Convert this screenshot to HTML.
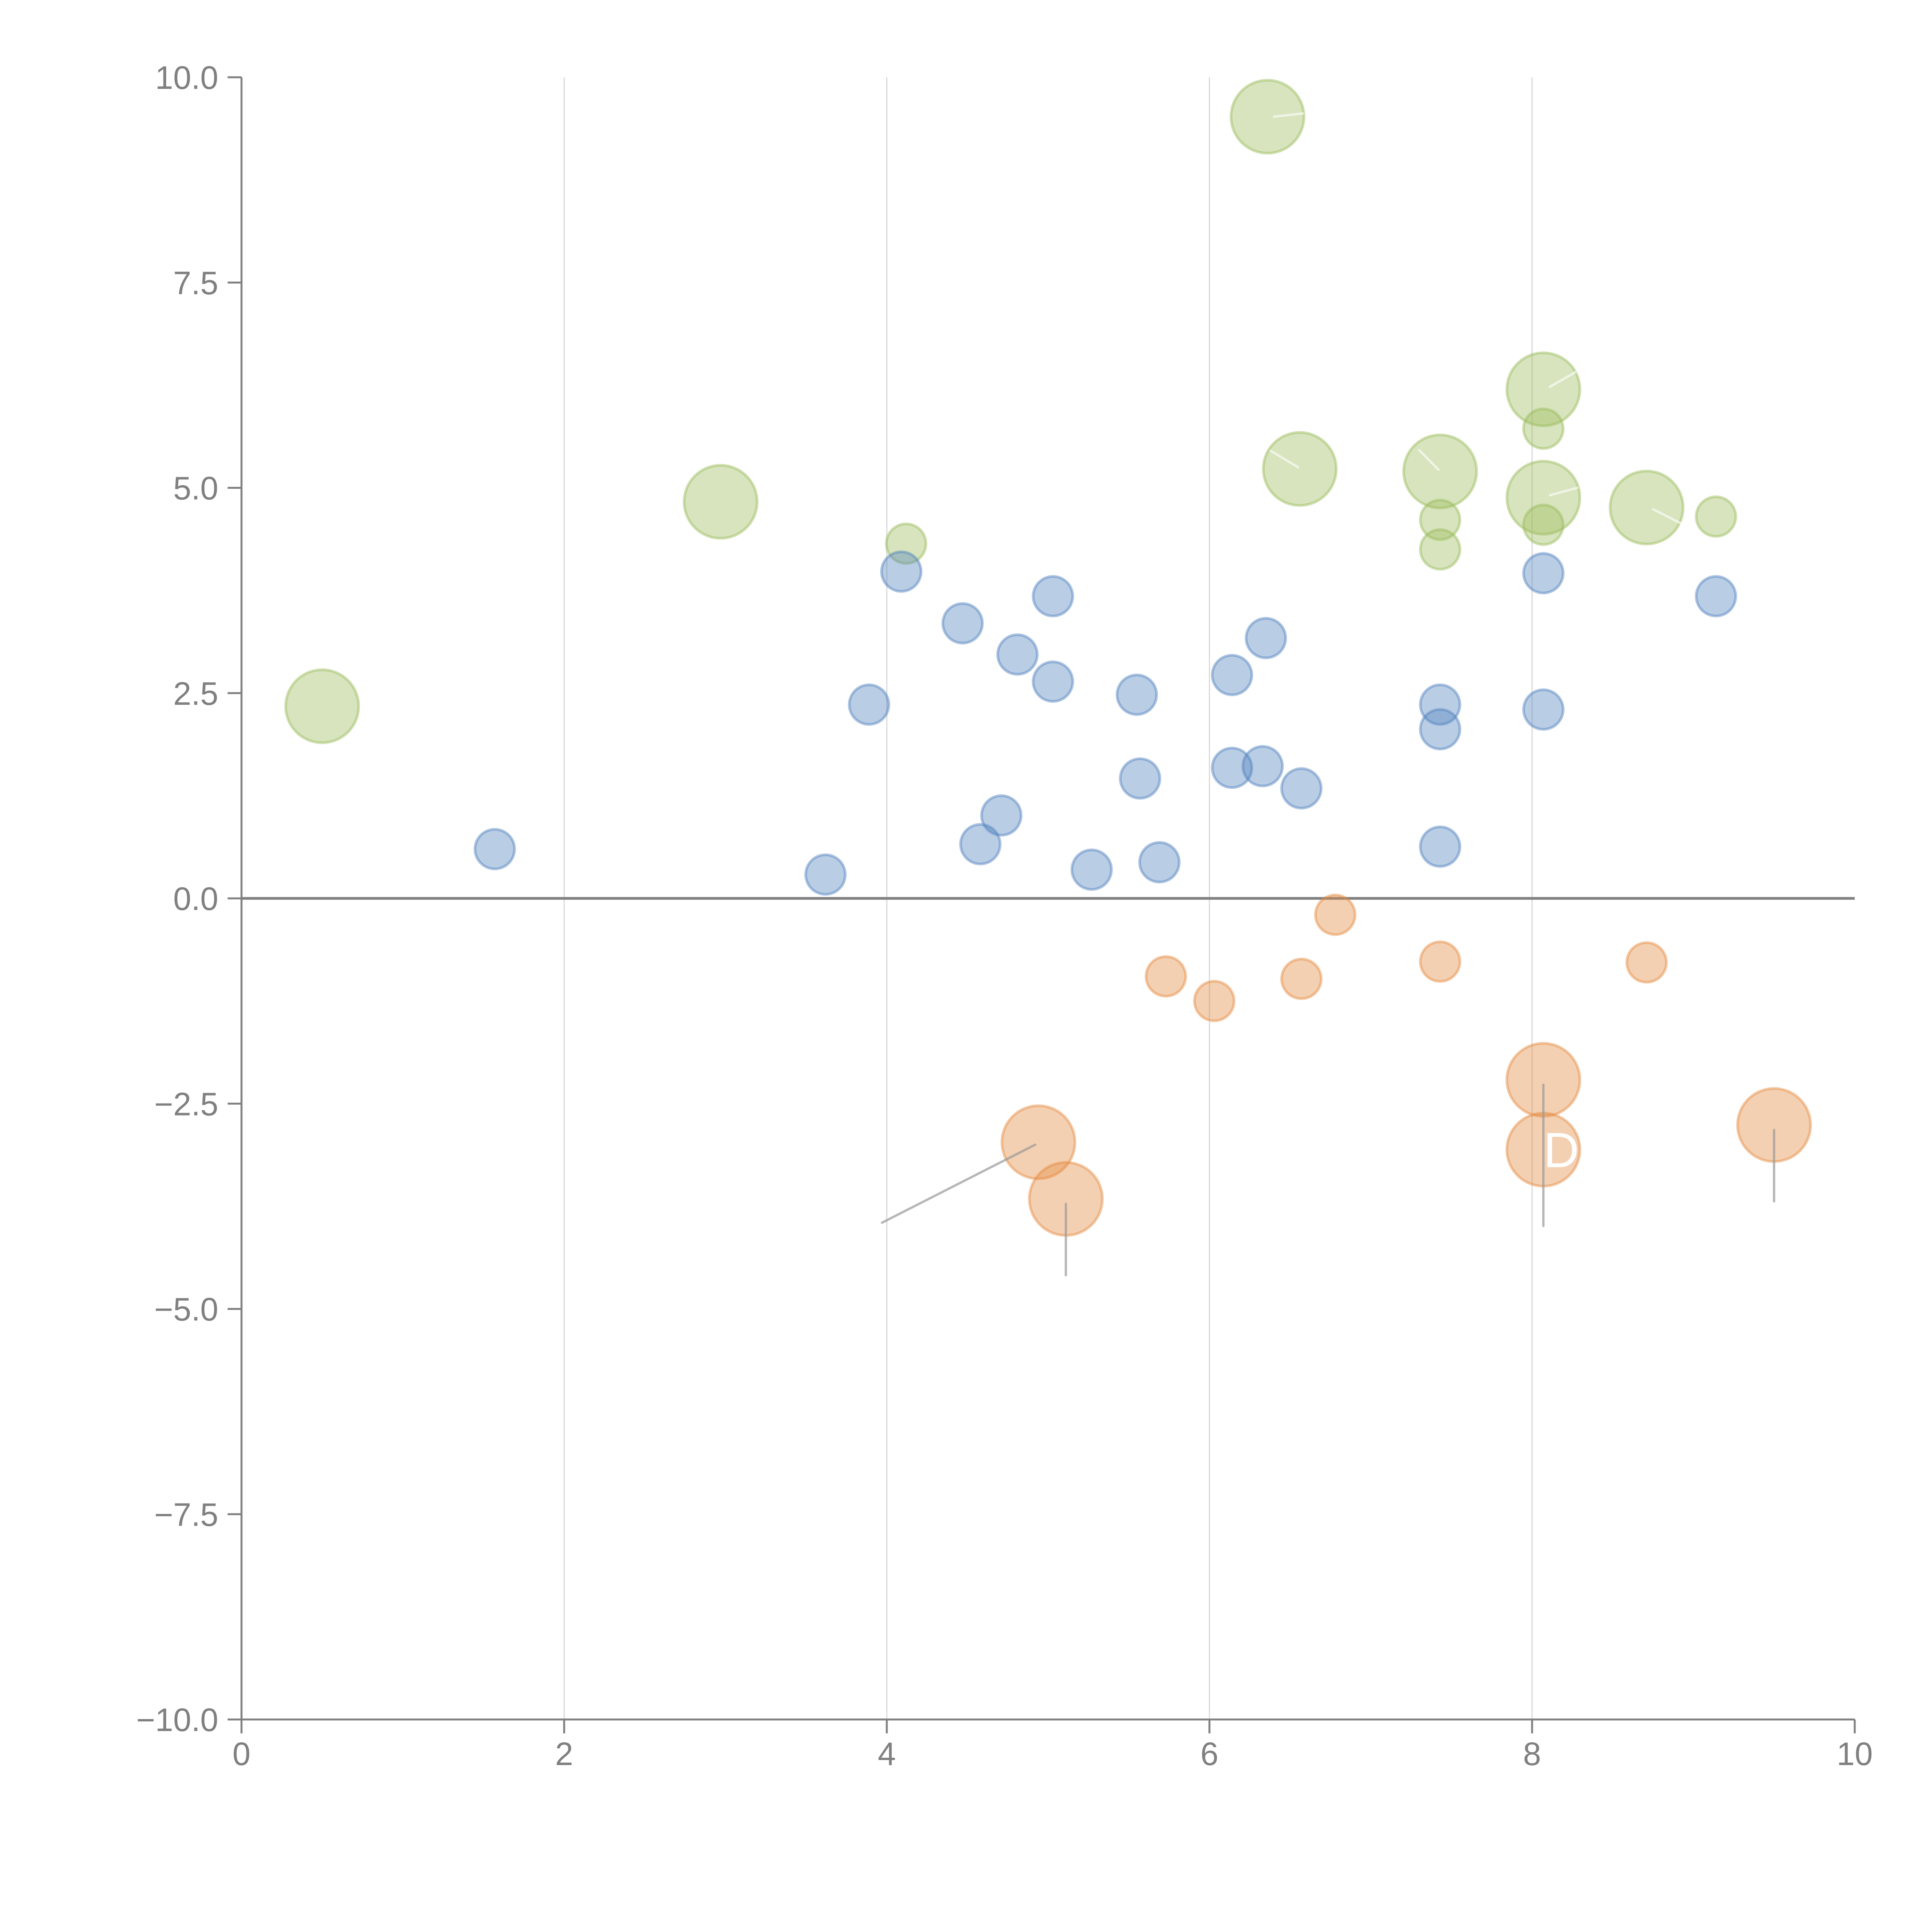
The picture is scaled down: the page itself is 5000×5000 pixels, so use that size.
<!DOCTYPE html>
<html>
<head>
<meta charset="utf-8">
<style>
html,body{margin:0;padding:0;background:#fff;}
svg{display:block;}
text{font-family:"Liberation Sans",Arial,sans-serif;}
</style>
</head>
<body>
<svg id="chart" width="5000" height="5000" viewBox="0 0 5000 5000" xmlns="http://www.w3.org/2000/svg">
  <rect x="0" y="0" width="5000" height="5000" fill="#ffffff"/>
  <g id="grid"></g>
  <g id="axes"></g>
  <g id="marks"></g>
  <g id="notes"></g>
</svg>
<script>
// ---- data ----
const blueX = [1.57,3.62,3.89,4.09,4.47,4.58,4.71,4.81,5.03,5.03,5.27,5.55,5.57,5.69,6.14,6.14,6.33,6.35,6.57,7.43,7.43,7.43,8.07,8.07,9.14];
const blueY = [0.60,0.29,2.36,3.98,3.35,0.66,1.01,2.97,3.68,2.64,0.35,2.48,1.46,0.44,2.72,1.59,1.61,3.17,1.34,2.36,2.06,0.63,3.96,2.30,3.68];
const blueSize = [10,10,10,10,10,10,10,10,10,10,10,10,10,10,10,10,10,10,10,10,10,10,10,10,10];

const greenX = [4.12,7.43,7.43,8.07,8.07,9.14,0.50,2.97,6.36,6.56,7.43,8.07,8.07,8.71];
const greenY = [4.32,4.61,4.25,5.72,4.55,4.65,2.34,4.83,9.52,5.23,5.20,6.20,4.88,4.76];
const greenSize = [10,10,10,10,10,10,34,34,34,34,34,34,34,34];

const orangeX = [5.73,6.03,6.57,6.78,7.43,8.71,4.94,5.11,8.07,8.07,9.50];
const orangeY = [-0.95,-1.25,-0.98,-0.20,-0.77,-0.78,-2.97,-3.66,-2.21,-3.06,-2.76];
const orangeSize = [10,10,10,10,10,10,34,34,34,34,34];

const xTicks = [0,2,4,6,8,10];
const xTickLabels = ["0","2","4","6","8","10"];
const yTicks = [10,7.5,5,2.5,0,-2.5,-5,-7.5,-10];
const yTickLabels = ["10.0","7.5","5.0","2.5","0.0","\u22122.5","\u22125.0","\u22127.5","\u221210.0"];

// leader lines: [x1,y1,x2,y2] in data units
const greyLeaderX1 = [4.92,5.11,8.07,9.50];
const greyLeaderY1 = [-3.00,-3.72,-2.27,-2.82];
const greyLeaderX2 = [3.97,5.11,8.07,9.50];
const greyLeaderY2 = [-3.95,-4.59,-3.99,-3.69];
const whiteLeaderX1 = [6.40,6.55,7.42,8.11,8.11,8.75];
const whiteLeaderY1 = [9.52,5.25,5.22,6.23,4.91,4.74];
const whiteLeaderX2 = [6.58,6.38,7.30,8.27,8.28,8.93];
const whiteLeaderY2 = [9.56,5.45,5.46,6.41,5.00,4.56];

// ---- scales ----
const X0 = 625, X1 = 4800, Y0 = 4450, Y1 = 200;
const xMin = 0, xMax = 10, yMin = -10, yMax = 10;
function sx(v){ return X0 + (v - xMin) / (xMax - xMin) * (X1 - X0); }
function sy(v){ return Y0 - (v - yMin) / (yMax - yMin) * (Y0 - Y1); }
function sr(s){ return Math.sqrt(s) * 16.2; }

const NS = "http://www.w3.org/2000/svg";
function mk(tag, attrs, parent){
  const el = document.createElementNS(NS, tag);
  for (const k in attrs) el.setAttribute(k, attrs[k]);
  parent.appendChild(el);
  return el;
}
const grid = document.getElementById('grid');
const axes = document.getElementById('axes');
const marks = document.getElementById('marks');
const notes = document.getElementById('notes');

// vertical gridlines
xTicks.forEach(function(t){
  if (t === xMin || t === xMax) return;
  const g = mk('line', {x1: sx(t), x2: sx(t), y1: Y1, y2: Y0, stroke: '#d9d9d9', 'stroke-width': 3}, grid);
  
  
});

// zero line
const zl = mk('line', {x1: X0, x2: X1, y1: sy(0), y2: sy(0), stroke: '#808080', 'stroke-width': 7}, axes);



// axes
const ya = mk('line', {x1: X0, x2: X0, y1: Y1, y2: Y0, stroke: '#808080', 'stroke-width': 5}, axes);


const xa = mk('line', {x1: X0, x2: X1, y1: Y0, y2: Y0, stroke: '#808080', 'stroke-width': 5}, axes);



yTicks.forEach(function(t, i){
  const tk = mk('line', {x1: X0 - 36, x2: X0, y1: sy(t), y2: sy(t), stroke: '#808080', 'stroke-width': 5}, axes);
  
  
  const tx = mk('text', {x: X0 - 60, y: sy(t) + 30, 'text-anchor': 'end', 'font-size': 84, fill: '#808080'}, axes);
  tx.textContent = yTickLabels[i];
  
  
});
xTicks.forEach(function(t, i){
  const tk = mk('line', {x1: sx(t), x2: sx(t), y1: Y0, y2: Y0 + 36, stroke: '#808080', 'stroke-width': 5}, axes);
  
  
  const tx = mk('text', {x: sx(t), y: Y0 + 118, 'text-anchor': 'middle', 'font-size': 84, fill: '#808080'}, axes);
  tx.textContent = xTickLabels[i];
  
  
});

function drawSeries(xs, ys, ss, color, name){
  xs.forEach(function(v, i){
    const c = mk('circle', {cx: sx(v), cy: sy(ys[i]), r: sr(ss[i]), fill: color, 'fill-opacity': 0.4, stroke: color, 'stroke-opacity': 0.45, 'stroke-width': 7}, marks);
    
    
  });
}
drawSeries(greenX, greenY, greenSize, '#9abb59', 'green-bubble');
drawSeries(blueX, blueY, blueSize, '#4f81bd', 'blue-bubble');
drawSeries(orangeX, orangeY, orangeSize, '#e48a3e', 'orange-bubble');

greyLeaderX1.forEach(function(v, i){
  const l = mk('line', {x1: sx(v), y1: sy(greyLeaderY1[i]), x2: sx(greyLeaderX2[i]), y2: sy(greyLeaderY2[i]), stroke: '#999999', 'stroke-opacity': 0.7, 'stroke-width': 6, 'stroke-linecap': 'round'}, notes);
  
  
});
whiteLeaderX1.forEach(function(v, i){
  const l = mk('line', {x1: sx(v), y1: sy(whiteLeaderY1[i]), x2: sx(whiteLeaderX2[i]), y2: sy(whiteLeaderY2[i]), stroke: '#ffffff', 'stroke-opacity': 0.6, 'stroke-width': 6, 'stroke-linecap': 'round'}, notes);
  
  
});

const lab1 = mk('text', {x: sx(8.07), y: sy(-3.06) + 45, 'font-size': 128, fill: '#ffffff'}, notes);
lab1.textContent = 'D';


const lab2 = mk('text', {x: sx(4.55), y: sy(-3.66) + 45, 'font-size': 128, fill: '#ffffff'}, notes);
lab2.textContent = 'O';


</script>
</body>
</html>
